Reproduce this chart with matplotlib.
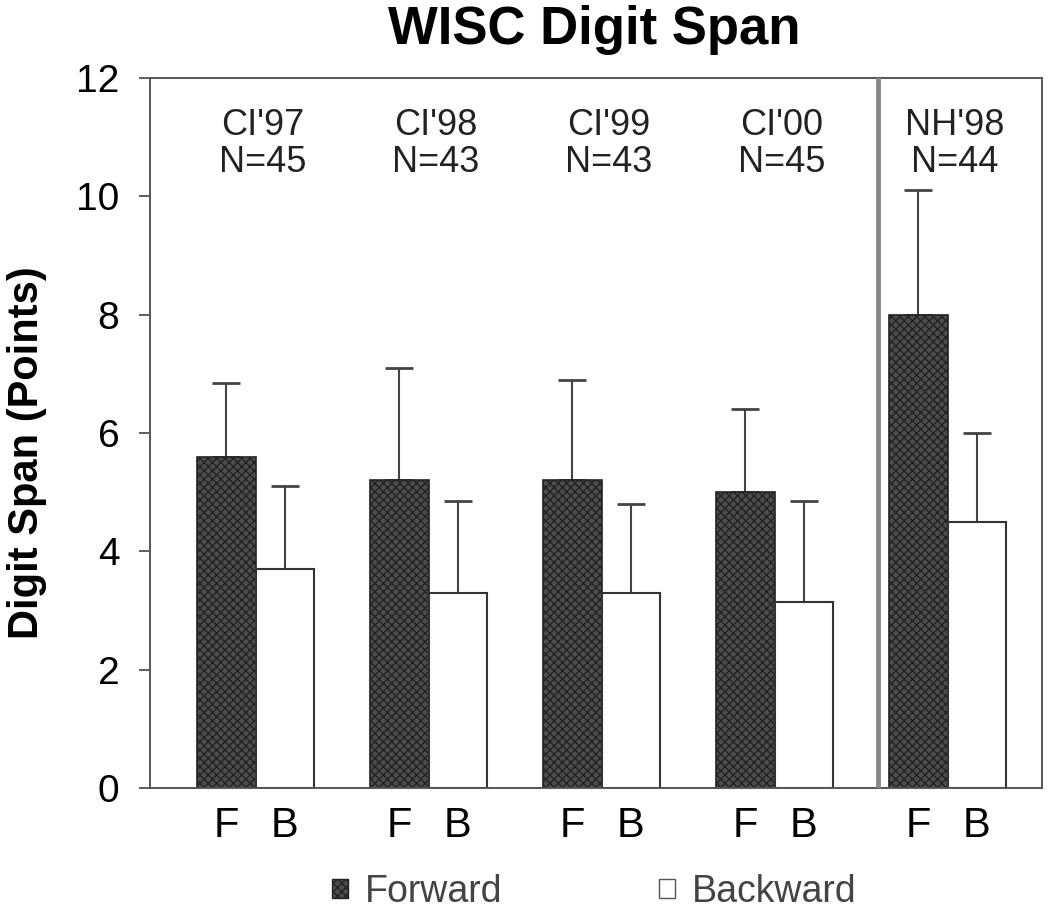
import matplotlib
matplotlib.use("Agg")
import matplotlib.pyplot as plt
import numpy as np
from matplotlib.patches import Patch

plt.rcParams['font.family'] = ['Liberation Sans', 'DejaVu Sans']
plt.rcParams['hatch.linewidth'] = 1.0

groups = ["CI'97", "CI'98", "CI'99", "CI'00", "NH'98"]
group_n = ["N=45", "N=43", "N=43", "N=45", "N=44"]
forward = [5.6, 5.2, 5.2, 5.0, 8.0]
forward_err = [1.25, 1.9, 1.7, 1.4, 2.1]
backward = [3.7, 3.3, 3.3, 3.15, 4.5]
backward_err = [1.4, 1.55, 1.5, 1.7, 1.5]
bar_labels = ["F", "B"]
legend_labels = ["Forward", "Backward"]

fig = plt.figure(figsize=(10.5, 9.14), dpi=100)
ax = fig.add_axes([150/1050, 1-788/914, (1042-150)/1050, (788-78)/914])

x = np.arange(len(groups))
w = 0.34
fx = x - w/2
bx = x + w/2

ax.bar(fx, forward, width=w, color='#4d4d4d', edgecolor='#222222', hatch='xxxx',
       linewidth=1.2, zorder=2)
ax.bar(bx, backward, width=w, color='white', edgecolor='#333333', linewidth=1.5, zorder=2)

ax.errorbar(fx, forward, yerr=[np.zeros(len(forward)), forward_err], fmt='none',
            ecolor='#444444', elinewidth=1.5, capsize=10, capthick=2, zorder=1)
ax.errorbar(bx, backward, yerr=[np.zeros(len(backward)), backward_err], fmt='none',
            ecolor='#444444', elinewidth=1.5, capsize=10, capthick=2, zorder=1)

ax.set_xlim(-0.61, 4.546)
ax.set_ylim(0, 12)
ax.set_yticks([0, 2, 4, 6, 8, 10, 12])
ax.tick_params(axis='y', labelsize=28, length=8, width=1.2, color='#444444', pad=14)

ticks = np.concatenate([fx, bx])
labels = [bar_labels[0]] * len(groups) + [bar_labels[1]] * len(groups)
ax.set_xticks(ticks)
ax.set_xticklabels(labels)
ax.tick_params(axis='x', labelsize=30, length=0, pad=13)

for s in ax.spines.values():
    s.set_color('#555555')
    s.set_linewidth(1.4)

ax.axvline(3.6, color='#888888', linewidth=3.5, zorder=3)

for i in range(len(groups)):
    ax.text(x[i] + 0.04, 11.2, groups[i], ha='center', va='center', fontsize=26, color='#222222')
    ax.text(x[i] + 0.04, 10.58, group_n[i], ha='center', va='center', fontsize=26, color='#222222')

ax.set_ylabel("Digit Span (Points)", fontsize=30, fontweight='bold')
ax.yaxis.set_label_coords(-0.116, 0.473)
fig.text(0.566, 1-30/914, "WISC Digit Span", ha='center', va='center',
         fontsize=38, fontweight='bold')

handles = [Patch(facecolor='#4d4d4d', edgecolor='#222222', hatch='xxxx'),
           Patch(facecolor='white', edgecolor='#555555')]
fig.legend(handles, legend_labels, loc='center', bbox_to_anchor=(0.566, 1-892/914),
           ncol=2, frameon=False, fontsize=27, handlelength=0.42, handleheight=0.42,
           columnspacing=4.2, handletextpad=0.45, labelcolor='#444444')

fig.savefig("out.png", dpi=100)
